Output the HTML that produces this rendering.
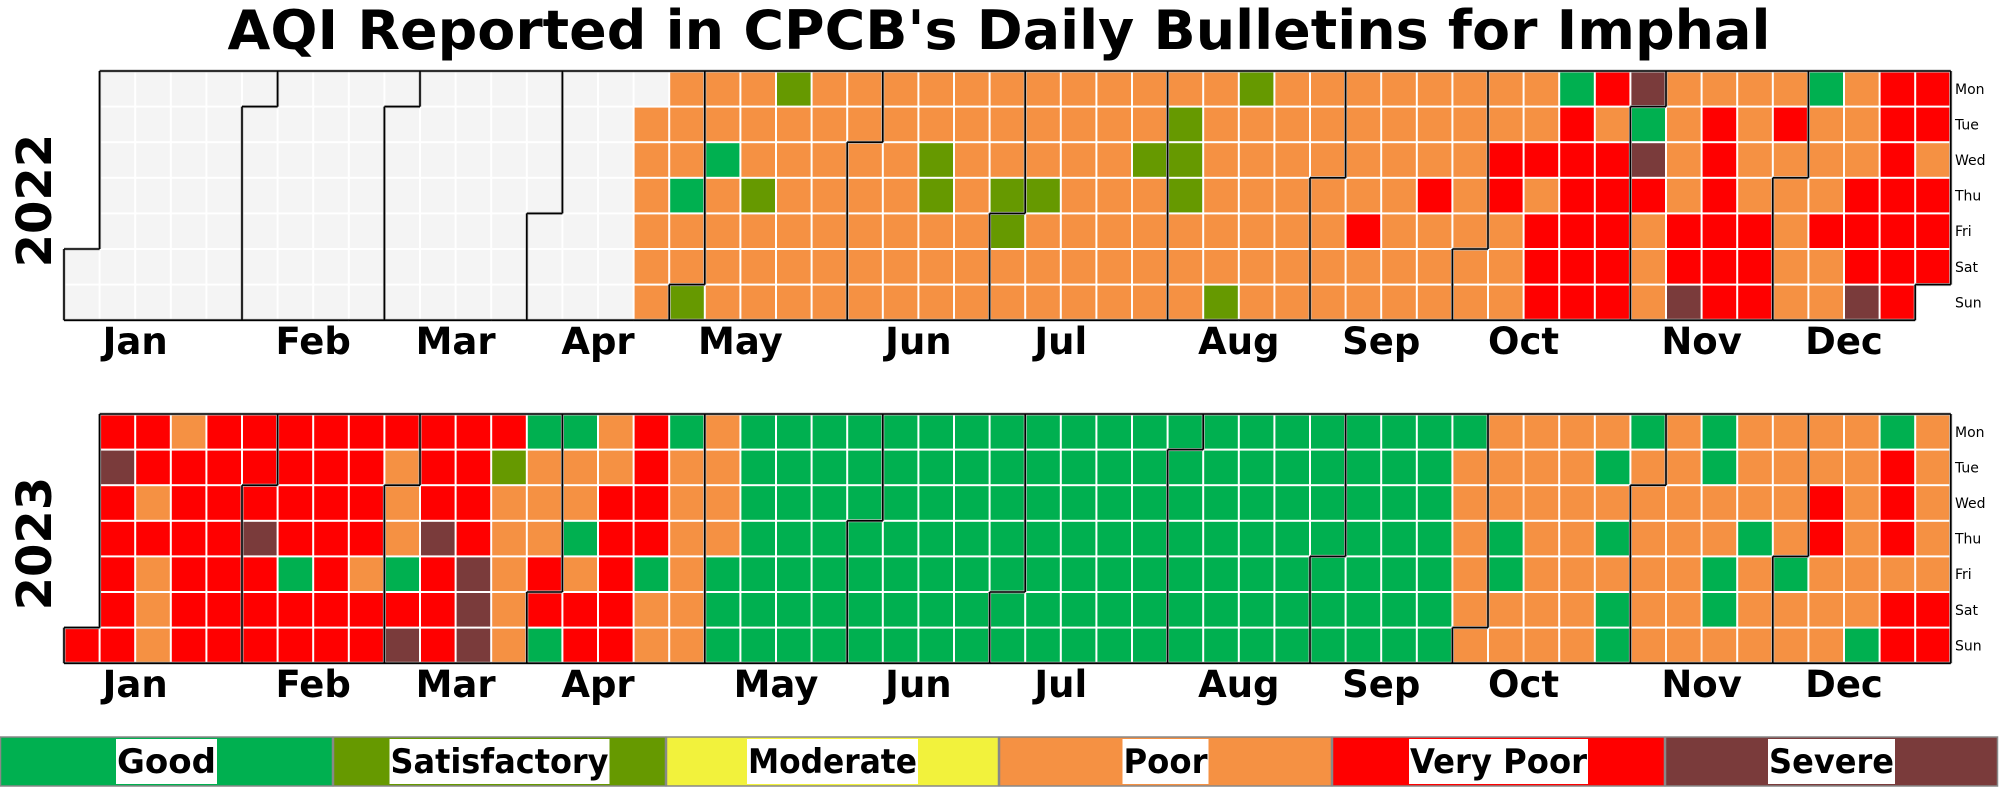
<!DOCTYPE html>
<html><head><meta charset="utf-8">
<style>
html,body{margin:0;padding:0;background:#fff;}
svg{display:block;font-family:"DejaVu Sans","Liberation Sans",sans-serif;}
</style></head>
<body>
<svg id="chart" width="2000" height="789" viewBox="0 0 2000 789" xmlns="http://www.w3.org/2000/svg">
<text x="999" y="49" text-anchor="middle" font-size="54" font-weight="bold" textLength="1543" lengthAdjust="spacingAndGlyphs">AQI Reported in CPCB's Daily Bulletins for Imphal</text>
<g id="panels"></g>
<g id="legend"></g>
</svg>
<script>
// Category codes: G Good, S Satisfactory, M Moderate, P Poor, V Very Poor, X Severe, N no data, - outside year
const years = [2022, 2023];
const weeks2022 = ["-----NN","NNNNNNN","NNNNNNN","NNNNNNN","NNNNNNN","NNNNNNN","NNNNNNN","NNNNNNN","NNNNNNN","NNNNNNN","NNNNNNN","NNNNNNN","NNNNNNN","NNNNNNN","NNNNNNN","NNNNNNN",
"NPPPPPP","PPPGPPS","PPGPPPP","PPPSPPP","SPPPPPP","PPPPPPP","PPPPPPP","PPPPPPP","PPSSPPP","PPPPPPP","PPPSSPP","PPPSPPP","PPPPPPP","PPPPPPP","PPSPPPP","PSSSPPP","PPPPPPS","SPPPPPP","PPPPPPP","PPPPPPP","PPPPVPP","PPPPPPP","PPPVPPP","PPPPPPP","PPVVPPP","PPVPVVV","GVVVVVV","VPVVVVV","XGXVPPP","PPPPVVX","PVVVVVV","PPPPVVV","PVPPPPP","GPPPVPP","PPPVVVX","VVVVVVV","VVPVVV-"];
const weeks2023 = ["------V","VXVVVVV","VVPVPPP","PVVVVVV","VVVVVVV","VVVXVVV","VVVVGVV","VVVVVVV","VVVVPVV","VPPPGVX","VVVXVVV","VVVVXXX","VSPPPPP","GPPPVVG","GPPGPVV","PPVVVVV","VVVVGPP","GPPPPPP","PPPPGGG",
"GGGGGGG","GGGGGGG","GGGGGGG","GGGGGGG","GGGGGGG","GGGGGGG","GGGGGGG","GGGGGGG","GGGGGGG","GGGGGGG","GGGGGGG","GGGGGGG","GGGGGGG","GGGGGGG","GGGGGGG","GGGGGGG","GGGGGGG","GGGGGGG","GGGGGGG","GGGGGGG",
"GPPPPPP","PPPGGPP","PPPPPPP","PPPPPPP","PGPGPGG","GPPPPPP","PPPPPPP","GGPPGGP","PPPGPPP","PPPPGPP","PPVVPPP","PPPPPPG","GVVVPVV","PPPPPVV"];
const monthNames = ["Jan","Feb","Mar","Apr","May","Jun","Jul","Aug","Sep","Oct","Nov","Dec"];
const dayNames = ["Mon","Tue","Wed","Thu","Fri","Sat","Sun"];
const legendCats = ["Good","Satisfactory","Moderate","Poor","Very Poor","Severe"];
const legendCodes = ["G","S","M","P","V","X"];

const colors = {G:"#00b050",S:"#669900",M:"#f2f23c",P:"#f59143",V:"#ff0000",X:"#7a3b3b",N:"#f4f4f4"};
const NS = "http://www.w3.org/2000/svg";
const X0 = 64, CS = 35.6;
const panelTops = [71, 414];
const xCol = c => X0 + c * CS;
const yRow = (top, r) => top + r * CS;

function mk(tag, attrs, parent){
  const e = document.createElementNS(NS, tag);
  for (const k in attrs) e.setAttribute(k, attrs[k]);
  parent.appendChild(e);
  return e;
}
const panels = document.getElementById("panels");
years.forEach((yr, yi) => {
  const weeks = yi === 0 ? weeks2022 : weeks2023;
  const top = panelTops[yi];
  const g = mk("g", {}, panels);
  
  
  const jan1 = new Date(Date.UTC(yr, 0, 1));
  const off = (jan1.getUTCDay() + 6) % 7;
  const grid = {}; // key col,row -> month
  const monthStart = [];
  const ndays = ((yr % 4 === 0) ? 366 : 365);
  for (let d = 0; d < ndays; d++) {
    const dt = new Date(Date.UTC(yr, 0, 1 + d));
    const pos = d + off, col = Math.floor(pos / 7), row = pos % 7;
    const m = dt.getUTCMonth();
    grid[col + "," + row] = m;
    if (dt.getUTCDate() === 1) monthStart[m] = col;
    const code = (weeks[col] || "")[row] || "N";
    const r = mk("rect", {x: xCol(col) + 1, y: yRow(top, row) + 1, width: CS - 2, height: CS - 2, fill: colors[code] || colors.N}, g);
    
    
  }
  // month outlines
  let dpath = "";
  for (const key in grid) {
    const [c, r] = key.split(",").map(Number);
    const m = grid[key];
    const x = xCol(c), y = yRow(top, r);
    const right = grid[(c + 1) + "," + r], left = grid[(c - 1) + "," + r];
    const below = grid[c + "," + (r + 1)], above = grid[c + "," + (r - 1)];
    if (right !== m) dpath += `M${x + CS},${y}V${y + CS}`;
    if (left === undefined) dpath += `M${x},${y}V${y + CS}`;
    if (below !== m) dpath += `M${x},${y + CS}H${x + CS}`;
    if (above === undefined) dpath += `M${x},${y}H${x + CS}`;
  }
  const halo = mk("path", {d: dpath, stroke: "#bbbbbb", "stroke-width": 3, fill: "none"}, g);
  
  
  const mp = mk("path", {d: dpath, stroke: "#000", "stroke-width": 1.6, fill: "none"}, g);
  
  
  // month labels
  monthNames.forEach((mn, i) => {
    const t = mk("text", {x: xCol(monthStart[i] + 2), y: top + 7 * CS + 34, "text-anchor": "middle", "font-size": 37, "font-weight": "bold"}, g);
    
    
    t.textContent = mn;
  });
  // weekday labels
  dayNames.forEach((dn, i) => {
    const t = mk("text", {x: 1955, y: yRow(top, i) + CS / 2 + 5, "font-size": 14}, g);
    
    
    t.textContent = dn;
  });
  // year label
  const cy = top + 3.5 * CS + 5;
  const yl = mk("text", {x: 35, y: cy, transform: `rotate(-90 35 ${cy})`, "text-anchor": "middle", "dominant-baseline": "central", "font-size": 48, "font-weight": "bold"}, g);
  
  
  yl.textContent = String(yr);
});

// legend
const lg = document.getElementById("legend");
const LW = 333, LY = 737, LH = 49;
const boxW = [101, 220, 171, 86, 179, 127];
legendCats.forEach((name, i) => {
  const x = i * LW;
  const seg = mk("rect", {x: x + 0.5, y: LY, width: LW - 1, height: LH, fill: colors[legendCodes[i]] || "#f2f23c", stroke: "#888", "stroke-width": 1.5}, lg);
  
  
  const cx = x + LW / 2;
  const bx = mk("rect", {x: cx - boxW[i] / 2, y: LY + 2, width: boxW[i], height: LH - 4, fill: "#fff"}, lg);
  
  
  const t = mk("text", {x: cx, y: LY + 36, "text-anchor": "middle", "font-size": 34, "font-weight": "bold", textLength: boxW[i] - 2, lengthAdjust: "spacingAndGlyphs"}, lg);
  
  
  t.textContent = name;
});
</script>
</body></html>
